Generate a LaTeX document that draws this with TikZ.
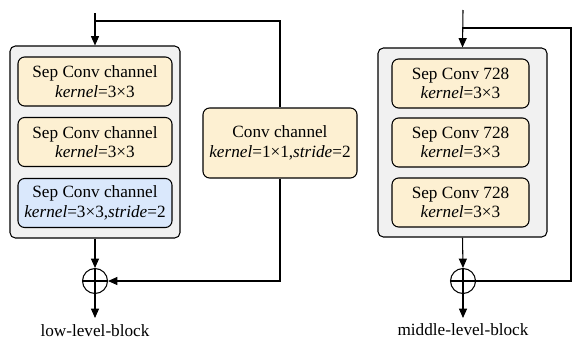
\documentclass[tikz,border=0pt]{standalone}
\usepackage{fontspec}
\setmainfont{Liberation Serif}
\usetikzlibrary{arrows.meta}
\definecolor{boxyellow}{HTML}{FDF0D2}
\definecolor{boxblue}{HTML}{DAE8FC}
\definecolor{boxgray}{HTML}{F1F1F1}
\tikzset{
  outerbox/.style={draw, rounded corners=4pt, fill=boxgray, line width=0.8pt},
  sepbox/.style={draw, rounded corners=5pt, fill=boxyellow, line width=0.8pt, minimum width=115.5pt, minimum height=36.75pt},
  addop/.style={draw, circle, minimum size=18.75pt, inner sep=0pt, line width=0.8pt},
  flow/.style={line width=0.8pt, -{Triangle[length=7pt,width=6pt]}},
  line/.style={line width=0.8pt}
}

\begin{document}
\begin{tikzpicture}[x=0.75pt, y=-0.75pt, every node/.style={font=\fontsize{12.9}{14.5}\selectfont, align=center}]
\useasboundingbox (0,0) rectangle (580,339);
% low-level block
\node[outerbox, minimum width=127.5pt, minimum height=144pt] (LowBlock) at (95,142) {};
\node[sepbox] (LowSep1) at (95,81.5) {Sep Conv channel\\\textit{kernel}=3×3};
\node[sepbox] (LowSep2) at (95,142) {Sep Conv channel\\\textit{kernel}=3×3};
\node[sepbox, fill=boxblue] (LowSep3) at (95,203) {Sep Conv channel\\\textit{kernel}=3×3,\textit{stride}=2};
\node[sepbox, minimum height=52.5pt] (ConvCh) at (280,143) {Conv channel\\\textit{kernel}=1×1,\textit{stride}=2};
\node[addop] (LowAdd) at (95,281) {};
\node (LowLabel) at (95,331) {low-level-block};
\coordinate (LowIn) at (95,13);
\coordinate (LowSplit) at (95,21);
\coordinate (LowOut) at (95,318);
\draw[flow] (LowIn) -- (LowBlock.north);
\draw[line] (LowSplit) -| (ConvCh.north);
\draw[flow] (ConvCh.south) |- (LowAdd.east);
\draw[flow] (LowBlock.south) -- (LowAdd.north);
\draw[flow] (LowAdd.north) -- (LowOut);
\draw[line] (LowAdd.west) -- (LowAdd.east);
% middle-level block
\node[outerbox, minimum width=126.75pt, minimum height=141.75pt] (MidBlock) at (462.5,142.5) {};
\node[sepbox, minimum width=102.75pt] (MidSep1) at (460.5,83.5) {Sep Conv 728\\\textit{kernel}=3×3};
\node[sepbox, minimum width=102.75pt] (MidSep2) at (460.5,142.5) {Sep Conv 728\\\textit{kernel}=3×3};
\node[sepbox, minimum width=102.75pt] (MidSep3) at (460.5,202.5) {Sep Conv 728\\\textit{kernel}=3×3};
\node[addop] (MidAdd) at (463,281) {};
\node (MidLabel) at (463,330) {middle-level-block};
\coordinate (MidIn) at (463,10);
\coordinate (MidSplit) at (463,28);
\coordinate (MidCorner) at (571,28);
\coordinate (MidOut) at (463,318);
\draw[flow] (MidIn) -- (MidBlock.north);
\draw[line] (MidSplit) -- (MidCorner) |- (MidAdd.east);
\draw[flow] (MidBlock.south) -- (MidAdd.north);
\draw[flow] (MidAdd.north) -- (MidOut);
\draw[line] (MidAdd.west) -- (MidAdd.east);
\end{tikzpicture}
\end{document}
